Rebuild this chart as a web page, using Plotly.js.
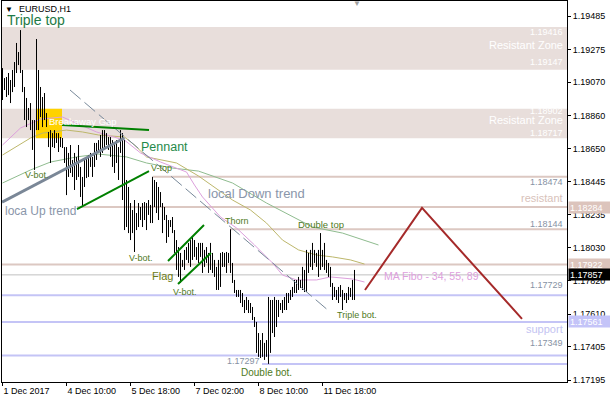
<!DOCTYPE html>
<html>
<head>
<meta charset="utf-8">
<script src="https://cdn.plot.ly/plotly-3.0.1.min.js"></script>
<style>
html,body{margin:0;padding:0;background:#fff;}
#chart{width:610px;height:400px;}
</style>
</head>
<body>
<div id="chart"></div>
<script>
// EURUSD H1 bars: high / low per hourly bar, starting 1 Dec 2017 02:00
const barHigh = [
  1.19158,1.19095,1.19102,1.19127,1.19083,1.19146,1.19196,1.19316,1.19259,1.19397,
  1.19146,1.19039,1.18970,1.18907,1.18938,1.18831,1.18831,1.19341,1.19146,1.19039,
  1.18976,1.19001,1.18875,1.18756,1.18768,1.18749,1.18768,1.18749,1.18749,1.18724,
  1.18718,1.18661,1.18661,1.18624,1.18674,1.18580,1.18624,1.18599,1.18674,1.18536,
  1.18473,1.18580,1.18592,1.18611,1.18624,1.18599,1.18687,1.18687,1.18705,1.18737,
  1.18768,1.18768,1.18749,1.18724,1.18724,1.18705,1.18687,1.18705,1.18661,1.18768,
  1.18749,1.18705,1.18454,1.18410,1.18309,1.18265,1.18328,1.18246,1.18309,1.18284,
  1.18309,1.18315,1.18309,1.18328,1.18297,1.18474,1.18454,1.18441,1.18410,1.18378,
  1.18309,1.18284,1.18234,1.18202,1.18202,1.18221,1.18139,1.18076,1.18032,1.17995,
  1.17951,1.18014,1.18032,1.18058,1.18076,1.18095,1.18076,1.18032,1.18058,1.18058,
  1.18058,1.18014,1.18032,1.17995,1.18058,1.17995,1.17951,1.17907,1.17951,1.17995,
  1.18001,1.17995,1.18001,1.17995,1.18144,1.17932,1.17825,1.17762,1.17762,1.17762,
  1.17743,1.17699,
  1.17718,1.17699,1.17680,1.17655,1.17592,1.17561,1.17491,1.17447,1.17491,1.17429,
  1.17447,1.17718,1.17699,1.17699,1.17718,1.17699,1.17699,1.17680,1.17699,1.17718,
  1.17743,1.17743,1.17762,1.17781,1.17825,1.17825,1.17844,1.17825,1.17907,1.17888,
  1.18014,1.17995,1.18014,1.18058,1.18014,1.17995,1.18014,1.18120,1.18014,1.18058,
  1.17951,1.17932,1.17907,1.17806,1.17781,1.17762,1.17781,1.17793,1.17762,1.17743,
  1.17743,1.17781,1.17775,1.17825,1.17888
];
const barLow = [
  1.18957,1.19020,1.18976,1.18988,1.18938,1.19007,1.19039,1.19127,1.19177,1.19127,
  1.19007,1.18831,1.18787,1.18831,1.18768,1.18643,1.18517,1.18768,1.18768,1.18850,
  1.18787,1.18831,1.18787,1.18661,1.18561,1.18661,1.18655,1.18687,1.18630,1.18661,
  1.18655,1.18561,1.18359,1.18473,1.18498,1.18473,1.18391,1.18454,1.18473,1.18347,
  1.18284,1.18410,1.18466,1.18473,1.18536,1.18473,1.18536,1.18580,1.18624,1.18599,
  1.18624,1.18661,1.18674,1.18643,1.18599,1.18536,1.18498,1.18561,1.18454,1.18624,
  1.18328,1.18139,1.18158,1.18120,1.18076,1.18120,1.18001,1.18139,1.18158,1.18202,
  1.18158,1.18202,1.18139,1.18234,1.18183,1.18183,1.18284,1.18246,1.18202,1.18284,
  1.18120,1.18202,1.18058,1.18095,1.18158,1.18120,1.17995,1.17888,1.17844,1.17806,
  1.17907,1.17888,1.17951,1.17932,1.17907,1.17951,1.17970,1.17951,1.17932,1.17970,
  1.17869,1.17907,1.17932,1.17869,1.17888,1.17869,1.17844,1.17762,1.17762,1.17781,
  1.17907,1.17907,1.17869,1.17932,1.17869,1.17806,1.17743,1.17718,1.17718,1.17680,
  1.17655,1.17617,
  1.17636,1.17617,1.17617,1.17573,1.17529,1.17366,1.17341,1.17334,1.17341,1.17322,
  1.17341,1.17297,1.17366,1.17491,1.17466,1.17529,1.17592,1.17636,1.17617,1.17636,
  1.17636,1.17680,1.17699,1.17718,1.17743,1.17743,1.17762,1.17775,1.17762,1.17749,
  1.17749,1.17869,1.17907,1.17888,1.17932,1.17907,1.17844,1.17888,1.17907,1.17888,
  1.17869,1.17844,1.17781,1.17699,1.17718,1.17699,1.17680,1.17718,1.17636,1.17699,
  1.17680,1.17699,1.17718,1.17699,1.17699
];
const lastPrice = 1.17857;

// time axis labels (bar index -> label)
const xTickIdx = [0, 32, 64, 96, 128, 160];
const xTickText = ['1 Dec 2017', '4 Dec 10:00', '5 Dec 18:00', '7 Dec 02:00', '8 Dec 10:00', '11 Dec 18:00'];
// price scale
const yTickVals = [1.17195, 1.17405, 1.17610, 1.17820, 1.18030, 1.18235, 1.18445, 1.18650, 1.18860, 1.19070, 1.19275, 1.19485];

// MA Fibo 34, 55, 89 (sampled)
const ma34Idx = [0, 9, 19, 30, 39, 47, 61, 69, 79, 87, 92, 96, 100, 109, 117, 126, 135, 140, 147, 157, 164, 175, 181];
const ma34Val = [1.18674, 1.18781, 1.18837, 1.18850, 1.18800, 1.18756, 1.18705, 1.18624, 1.18567, 1.18529, 1.18504, 1.18422, 1.18347, 1.18221, 1.18152, 1.18045, 1.17932, 1.17856, 1.17825, 1.17825, 1.17844, 1.17831, 1.17812];
const ma55Idx = [0, 14, 20, 32, 40, 48, 61, 66, 72, 87, 98, 108, 115, 124, 132, 140, 148, 157, 165, 174, 181];
const ma55Val = [1.18611, 1.18718, 1.18749, 1.18768, 1.18756, 1.18737, 1.18724, 1.18674, 1.18599, 1.18561, 1.18479, 1.18391, 1.18328, 1.18265, 1.18183, 1.18076, 1.18014, 1.17982, 1.17970, 1.17951, 1.17925];
const ma89Idx = [0, 14, 24, 37, 48, 62, 72, 85, 98, 115, 132, 145, 155, 170, 188];
const ma89Val = [1.18435, 1.18517, 1.18567, 1.18599, 1.18617, 1.18599, 1.18561, 1.18529, 1.18510, 1.18435, 1.18309, 1.18221, 1.18158, 1.18120, 1.18045];

// resistance zones [low, high]
const zoneUpper = [1.19147, 1.19416];
const zoneLower = [1.18717, 1.18902];
// breakaway gap box: bar index span
const gapIdx = [16.75, 29.75];

// horizontal levels: price and first bar index
const resistLevels = [1.18474, 1.18284, 1.18144, 1.17922];
const resistStart  = [75.25, 37.25, 113.75, -0.25];
const supportLevels = [1.17729, 1.17561, 1.17349, 1.17297];
const supportStart  = [-0.25, -0.25, -0.25, 129.75];

// trend lines: [index, price] pairs
const upTrendGray   = [[-0.25, 1.18315], [61, 1.18718]];
const pennantTop    = [[29.75, 1.18800], [73.25, 1.18768]];
const pennantBottom = [[37.25, 1.18271], [73.25, 1.18510]];
const flagTop       = [[82.75, 1.17944], [100.75, 1.18171]];
const flagBottom    = [[87.75, 1.17800], [104.25, 1.17995]];
const downTrend     = [[33.75, 1.19020], [163.75, 1.17624]];
const projection    = [[181.25, 1.17762], [209.75, 1.18278], [259.75, 1.17580]];

const FONT = 'Liberation Sans, Arial, sans-serif';
const X_RANGE = [-0.25, 282.25];
const Y_RANGE = [1.17183, 1.19580];

const COL_ZONE = '#e8dedb';
const COL_RES = '#dcc8c2';
const COL_SUP = '#c4c4f6';
const COL_VAL = '#8792a4';

// bars as vertical high-low strokes
const bx = [], by = [];
barHigh.forEach((h, i) => { bx.push(i, i, null); by.push(barLow[i], h, null); });

const traces = [
  {x: ma89Idx, y: ma89Val, mode: 'lines', line: {color: '#8fbc8f', width: 1}, hoverinfo: 'skip'},
  {x: ma55Idx, y: ma55Val, mode: 'lines', line: {color: '#bdb76b', width: 1}, hoverinfo: 'skip'},
  {x: ma34Idx, y: ma34Val, mode: 'lines', line: {color: '#dda0dd', width: 1}, hoverinfo: 'skip'},
  {x: bx, y: by, mode: 'lines', line: {color: '#000', width: 1}, hoverinfo: 'skip', connectgaps: false},
  {x: projection.map(p => p[0]), y: projection.map(p => p[1]), mode: 'lines', line: {color: '#a52a2a', width: 2}, hoverinfo: 'skip'}
];

const shapes = [];
[zoneUpper, zoneLower].forEach(z => shapes.push({
  type: 'rect', xref: 'paper', x0: 0, x1: 1, yref: 'y', y0: z[0], y1: z[1],
  fillcolor: COL_ZONE, line: {width: 0}, layer: 'below'
}));
shapes.push({type: 'rect', xref: 'x', x0: gapIdx[0], x1: gapIdx[1], yref: 'y', y0: zoneLower[0], y1: zoneLower[1],
  fillcolor: '#ffd200', line: {width: 0}, layer: 'below'});
resistLevels.forEach((p, k) => shapes.push({
  type: 'line', xref: 'x', x0: resistStart[k], x1: X_RANGE[1], yref: 'y', y0: p, y1: p,
  line: {color: COL_RES, width: 2}, layer: 'below'
}));
supportLevels.forEach((p, k) => shapes.push({
  type: 'line', xref: 'x', x0: supportStart[k], x1: X_RANGE[1], yref: 'y', y0: p, y1: p,
  line: {color: COL_SUP, width: 2}, layer: 'below'
}));
shapes.push({type: 'line', xref: 'paper', x0: 0, x1: 1, yref: 'y', y0: lastPrice, y1: lastPrice,
  line: {color: '#c0c0c0', width: 1}, layer: 'below'});

function seg(pts, color, width, dash) {
  return {type: 'line', xref: 'x', yref: 'y', x0: pts[0][0], y0: pts[0][1], x1: pts[1][0], y1: pts[1][1],
    line: {color: color, width: width, dash: dash || 'solid'}, layer: 'above'};
}
shapes.push(seg(downTrend, '#778899', 1, '14px,5px'));
shapes.push(seg(upTrendGray, '#7a8797', 3));
shapes.push(seg(pennantTop, '#008000', 2));
shapes.push(seg(pennantBottom, '#008000', 2));
shapes.push(seg(flagTop, '#008000', 2));
shapes.push(seg(flagBottom, '#008000', 2));

function txt(text, x, y, size, color, anchor) {
  return {xref: 'x', yref: 'y', x: x, y: y, text: text, showarrow: false,
    xanchor: anchor || 'left', yanchor: 'middle', font: {family: FONT, size: size, color: color}};
}
function rtxt(text, y, size, color) {
  return {xref: 'paper', yref: 'y', x: 1, xshift: -2, y: y, text: text, showarrow: false,
    xanchor: 'right', yanchor: 'middle', font: {family: FONT, size: size, color: color}};
}
function badge(text, y, bg) {
  return {xref: 'paper', yref: 'y', x: 1, xshift: 1, y: y, text: text, showarrow: false,
    xanchor: 'left', yanchor: 'middle', align: 'left', width: 40, height: 9, borderpad: 1,
    bgcolor: bg, font: {family: FONT, size: 9, color: '#fff'}};
}

const OLIVE = '#4f7a1c';
const annotations = [
  txt('▼', 3.3, 1.19529, 8, '#000', 'center'),
  txt('EURUSD,H1', 7.25, 1.19529, 9, '#000'),
  txt('Triple top', 1.0, 1.19462, 14, '#1e7a46'),
  txt('▼', 177.25, 1.19562, 8, '#a0a0a0', 'center'),
  rtxt('1.19416', 1.19385, 9, '#ffffff'),
  rtxt('Resistant Zone', 1.19303, 11, '#ffffff'),
  rtxt('1.19147', 1.19196, 9, '#ffffff'),
  rtxt('1.18902', 1.18888, 9, '#ffffff'),
  rtxt('Resistant Zone', 1.18831, 11, '#ffffff'),
  rtxt('1.18717', 1.18749, 9, '#ffffff'),
  rtxt('1.18474', 1.18441, 9, COL_VAL),
  rtxt('resistant', 1.18341, 11, '#d8c2ba'),
  rtxt('1.18144', 1.18177, 9, COL_VAL),
  rtxt('1.17729', 1.17793, 9, COL_VAL),
  rtxt('support', 1.17517, 11, '#c4c4f2'),
  rtxt('1.17349', 1.17429, 9, COL_VAL),
  txt('Breakaway Gap', 22.0, 1.18825, 9.5, '#ffffff'),
  txt('Pennant', 68.0, 1.18661, 12.5, '#1f8a4a'),
  txt('V-bot.', 10.0, 1.18485, 9, OLIVE),
  txt('loca Up trend', 0.0, 1.18259, 12, '#8a96aa'),
  txt('V-top', 73.0, 1.18529, 9, OLIVE),
  txt('local Down trend', 101.5, 1.18372, 13, '#8a96aa'),
  txt('V-bot.', 62.0, 1.17963, 9, OLIVE),
  txt('Thorn', 110.0, 1.18196, 9, OLIVE),
  txt('Double top', 146.5, 1.18171, 9.5, OLIVE),
  txt('Flag', 73.5, 1.17850, 11, '#6b7a14'),
  txt('V-bot.', 84.0, 1.17749, 9, OLIVE),
  txt('MA Fibo - 34, 55, 89', 189.5, 1.17850, 10.5, '#dda0dd'),
  txt('Triple bot.', 166.0, 1.17605, 9, OLIVE),
  txt('1.17297', 111.0, 1.17315, 9, COL_VAL),
  txt('Double bot.', 118.0, 1.17240, 10, OLIVE),
  badge('1.18284', resistLevels[1], '#dcc4bc'),
  badge('1.17922', resistLevels[3], '#dcc4bc'),
  badge(lastPrice.toFixed(5), lastPrice, '#000000'),
  badge('1.17561', supportLevels[1], '#c4c4f8')
];

const layout = {
  width: 610, height: 400,
  margin: {l: 2, r: 43, t: 1, b: 18, pad: 0},
  paper_bgcolor: '#ffffff', plot_bgcolor: '#ffffff',
  showlegend: false,
  font: {family: FONT, size: 9, color: '#000'},
  xaxis: {
    range: X_RANGE, tickmode: 'array', tickvals: xTickIdx, ticktext: xTickText,
    ticks: 'outside', ticklen: 3, tickcolor: '#000', ticklabelposition: 'outside right',
    showgrid: false, zeroline: false, showline: true, linecolor: '#000', linewidth: 1, mirror: true,
    tickfont: {family: FONT, size: 9, color: '#000'}, fixedrange: true
  },
  yaxis: {
    range: Y_RANGE, side: 'right', tickmode: 'array', tickvals: yTickVals, tickformat: '.5f',
    ticks: 'outside', ticklen: 3, tickcolor: '#000',
    showgrid: false, zeroline: false, showline: true, linecolor: '#000', linewidth: 1, mirror: true,
    tickfont: {family: FONT, size: 9, color: '#000'}, fixedrange: true
  },
  shapes: shapes,
  annotations: annotations
};

Plotly.newPlot('chart', traces, layout, {staticPlot: true, displayModeBar: false});
</script>
</body>
</html>
